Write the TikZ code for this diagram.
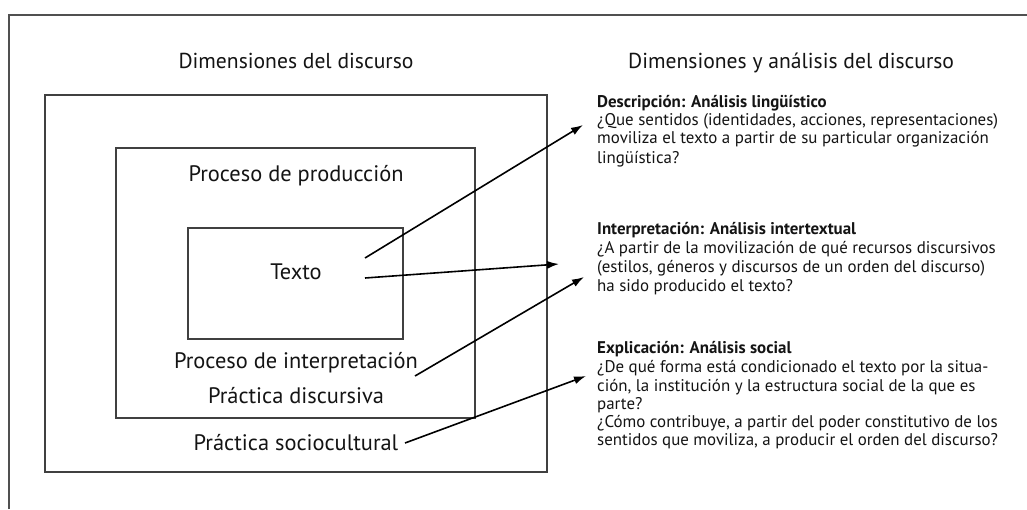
\documentclass[tikz,border=0pt]{standalone}
\usepackage{fontspec}
\setmainfont{PT Sans}
\usetikzlibrary{arrows.meta}
\definecolor{txt}{HTML}{141414}
\definecolor{boxgray}{HTML}{404040}
\definecolor{framegray}{HTML}{505050}
\begin{document}
\begin{tikzpicture}[x=1pt,y=-1pt,
  frame/.style={draw=framegray,line width=2pt},
  box/.style={draw=boxgray,line width=1.7pt,inner sep=0pt},
  lbl/.style={inner sep=0pt,anchor=base,text=txt,font=\fontsize{22.4}{26}\selectfont},
  head/.style={inner sep=0pt,text=txt,font=\fontsize{21.6}{25}\selectfont},
  rt/.style={inner sep=0pt,anchor=base west,text=txt,font=\fontsize{16.9}{19}\selectfont},
  rh/.style={inner sep=0pt,anchor=base west,text=txt,font=\bfseries\fontsize{16.9}{19}\selectfont},
  arr/.style={-{Latex[length=12pt,width=8pt]},line width=1.6pt,draw=black}]
\useasboundingbox (0,0) rectangle (1027,509);
\fill[white] (0,0) rectangle (1027,509);
% frame
\coordinate (fa) at (9,509);
\coordinate (fb) at (9,15);
\coordinate (fc) at (1027,15);
\draw[frame] (fa) -- (fb) -- (fc);
% boxes
\node[box,minimum width=502pt,minimum height=377pt] (outer) at (296,283.5) {};
\node[box,minimum width=359pt,minimum height=270pt] (middle) at (295.5,283) {};
\node[box,minimum width=215pt,minimum height=111pt] (inner) at (295.5,283.5) {};
% headings
\node[head,anchor=base] (h1) at (296,68) {Dimensiones del discurso};
\node[head,anchor=base west] (h2) at (628,68) {Dimensiones y análisis del discurso};
% left labels
\node[lbl] (prod) at (296,181) {Proceso de producción};
\node[lbl] (texto) at (296,279) {Texto};
\node[lbl] (interp) at (296,368) {Proceso de interpretación};
\node[lbl] (disc) at (296,403) {Práctica discursiva};
\node[lbl] (socio) at (296,450) {Práctica sociocultural};
% right block 1
\node[rh] (d0) at (597,107) {Descripción: Análisis lingüístico};
\node[rt] (d1) at (597,125) {¿Que sentidos (identidades, acciones, representaciones)};
\node[rt] (d2) at (597,143) {moviliza el texto a partir de su particular organización};
\node[rt] (d3) at (597,163) {lingüística?};
% right block 2
\node[rh] (i0) at (597,234) {Interpretación: Análisis intertextual};
\node[rt] (i1) at (597,253) {¿A partir de la movilización de qué recursos discursivos};
\node[rt] (i2) at (597,272) {(estilos, géneros y discursos de un orden del discurso)};
\node[rt] (i3) at (597,291) {ha sido producido el texto?};
% right block 3
\node[rh] (e0) at (597,353) {Explicación: Análisis social};
\node[rt] (e1) at (597,372) {¿De qué forma está condicionado el texto por la situa-};
\node[rt] (e2) at (597,391) {ción, la institución y la estructura social de la que es};
\node[rt] (e3) at (597,409) {parte?};
\node[rt] (e4) at (597,427) {¿Cómo contribuye, a partir del poder constitutivo de los};
\node[rt] (e5) at (597,445) {sentidos que moviliza, a producir el orden del discurso?};
% arrows
\coordinate (s1) at (365,258);
\coordinate (t1) at (583,125);
\coordinate (s2) at (365,278);
\coordinate (t2) at (559,264);
\coordinate (s3) at (415,376);
\coordinate (t3) at (584,277);
\coordinate (s4) at (405,443);
\coordinate (t4) at (586,376);
\draw[arr] (s1) -- (t1);
\draw[arr] (s2) -- (t2);
\draw[arr] (s3) -- (t3);
\draw[arr] (s4) -- (t4);
\end{tikzpicture}
\end{document}
